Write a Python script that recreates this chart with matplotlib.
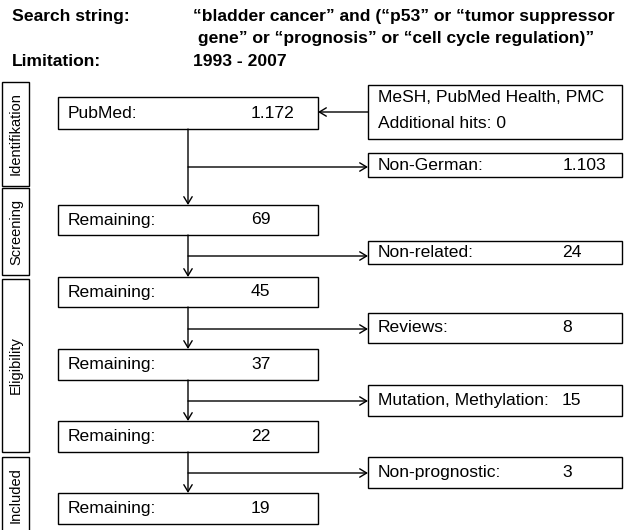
import matplotlib.pyplot as plt
from matplotlib.patches import Rectangle

plt.rcParams['font.family'] = ['Liberation Sans', 'DejaVu Sans']

# data
search_string = ['\u201cbladder cancer\u201d and (\u201cp53\u201d or \u201ctumor suppressor',
                 ' gene\u201d or \u201cprognosis\u201d or \u201ccell cycle regulation)\u201d']
limitation = '1993 - 2007'
main_labels = ['PubMed:', 'Remaining:', 'Remaining:', 'Remaining:', 'Remaining:', 'Remaining:']
main_counts = ['1.172', '69', '45', '37', '22', '19']
excl_labels = ['Non-German:', 'Non-related:', 'Reviews:', 'Mutation, Methylation:', 'Non-prognostic:']
excl_counts = ['1.103', '24', '8', '15', '3']
extra_lines = ['MeSH, PubMed Health, PMC', 'Additional hits: 0']
phases = ['Identifikation', 'Screening', 'Eligibility', 'Included']

# layout (pixel coords)
main_y = [(97, 129), (205, 235), (277, 307), (349, 380), (421, 452), (493, 524)]
excl_y = [(153, 177), (241, 264), (313, 343), (385, 416), (457, 488)]
branch_y = [167, 256, 329, 401, 473]
phase_y = [(82, 186), (188, 275), (279, 452), (457, 540)]
mx0, mx1, ax_x = 58, 318, 188
sx0, sx1 = 368, 622

fig = plt.figure(figsize=(6.27, 5.30), dpi=100)
ax = fig.add_axes([0, 0, 1, 1])
ax.set_xlim(0, 627)
ax.set_ylim(530, 0)
ax.axis('off')

fs = 12.6
hfs = 12.6
lw = 1.0
arrow = dict(arrowstyle='->,head_length=0.5,head_width=0.3', lw=lw, color='black',
             shrinkA=0, shrinkB=0)

# header
ax.text(12, 16, 'Search string:', fontsize=hfs, fontweight='bold', va='center')
ax.text(193, 16, search_string[0], fontsize=hfs, fontweight='bold', va='center')
ax.text(193, 38, search_string[1], fontsize=hfs, fontweight='bold', va='center')
ax.text(12, 62, 'Limitation:', fontsize=hfs, fontweight='bold', va='center')
ax.text(193, 62, limitation, fontsize=hfs, fontweight='bold', va='center')

# phase boxes
for name, (y0, y1) in zip(phases, phase_y):
    ax.add_patch(Rectangle((2, y0), 27, y1 - y0, fill=False, lw=lw, ec='black'))
    ax.text(16, min((y0 + y1) / 2, 495), name, rotation=90, fontsize=10.5,
            ha='center', va='center')

# main boxes
for i, (lab, cnt) in enumerate(zip(main_labels, main_counts)):
    y0, y1 = main_y[i]
    ax.add_patch(Rectangle((mx0, y0), mx1 - mx0, y1 - y0, fill=False, lw=lw, ec='black'))
    cy = (y0 + y1) / 2
    ax.text(68, cy, lab, fontsize=fs, va='center')
    ax.text(251, cy, cnt, fontsize=fs, va='center')
    if i < len(main_labels) - 1:
        ax.annotate('', xy=(ax_x, main_y[i + 1][0]), xytext=(ax_x, y1), arrowprops=arrow)

# exclusion boxes
for i, (lab, cnt) in enumerate(zip(excl_labels, excl_counts)):
    y0, y1 = excl_y[i]
    ax.add_patch(Rectangle((sx0, y0), sx1 - sx0, y1 - y0, fill=False, lw=lw, ec='black'))
    cy = (y0 + y1) / 2
    ax.text(378, cy, lab, fontsize=fs, va='center')
    ax.text(606 if cnt == '1.103' else 562, cy, cnt, fontsize=fs, va='center',
            ha='right' if cnt == '1.103' else 'left')
    ax.annotate('', xy=(sx0, branch_y[i]), xytext=(ax_x, branch_y[i]), arrowprops=arrow)

# additional sources box
ax.add_patch(Rectangle((sx0, 85), sx1 - sx0, 54, fill=False, lw=lw, ec='black'))
ax.text(378, 98, extra_lines[0], fontsize=fs, va='center')
ax.text(378, 123, extra_lines[1], fontsize=fs, va='center')
ax.annotate('', xy=(mx1, 112), xytext=(sx0, 112), arrowprops=arrow)

fig.savefig('out.png', dpi=100)
